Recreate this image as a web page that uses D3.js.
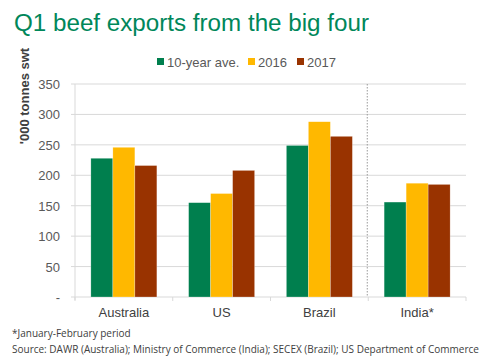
<!DOCTYPE html>
<html><head><meta charset="utf-8">
<script src="https://cdn.jsdelivr.net/npm/d3@7"></script>
<style>body{margin:0;background:#fff}svg{display:block}</style>
</head><body>
<script>
const categories = ["Australia", "US", "Brazil", "India*"];
const seriesNames = ["10-year ave.", "2016", "2017"];
const avg10 = [228, 155, 249, 156];
const y2016 = [246, 170, 288, 187];
const y2017 = [216, 208, 264, 185];
const yTicks = [0, 50, 100, 150, 200, 250, 300, 350];
const colors = ["#007F4E", "#FFB800", "#993300"];
const series = [avg10, y2016, y2017];

(function () {
const W = 500, H = 361;
const svg = d3.select("body").append("svg").attr("width", W).attr("height", H);
const font = "Liberation Sans, Arial, sans-serif";

svg.append("text").attr("x", 14).attr("y", 31).attr("fill", "#00875A")
  .attr("font-family", font).attr("font-size", 24.2).text("Q1 beef exports from the big four");

const pL = 75, pR = 466, pT = 84, pB = 297;
const x = d3.scaleBand().domain(categories).range([pL, pR]);
const y = d3.scaleLinear().domain([0, 350]).range([pB, pT]);
const xs = d3.scaleBand().domain(seriesNames).range([0, 66]);

svg.append("g").selectAll("line").data(yTicks).join("line")
  .attr("x1", pL - 4).attr("x2", pR).attr("y1", d => y(d)).attr("y2", d => y(d))
  .attr("stroke", "#d9d9d9").attr("stroke-width", 1);
svg.append("line").attr("x1", pL).attr("x2", pL).attr("y1", pT).attr("y2", pB + 3)
  .attr("stroke", "#d9d9d9");
svg.append("g").selectAll("text").data(yTicks).join("text")
  .attr("x", 60).attr("y", d => y(d) + 5).attr("text-anchor", "end")
  .attr("font-family", font).attr("font-size", 13).attr("fill", "#595959")
  .text(d => d === 0 ? "-" : d);
const bounds = categories.map(c => x(c)).concat([pR]);
svg.append("g").selectAll("line").data(bounds).join("line")
  .attr("x1", d => d).attr("x2", d => d).attr("y1", pB).attr("y2", pB + 4)
  .attr("stroke", "#d9d9d9");
svg.append("line").attr("x1", x("India*") - 1).attr("x2", x("India*") - 1).attr("y1", pT).attr("y2", pB)
  .attr("stroke", "#999").attr("stroke-dasharray", "1.5,1.5");

categories.forEach((c, i) => {
  const g = svg.append("g").attr("transform", `translate(${x(c) + (x.bandwidth() - 66) / 2},0)`);
  series.forEach((s, j) => {
    g.append("rect").attr("x", xs(seriesNames[j])).attr("width", xs.bandwidth())
      .attr("y", y(s[i])).attr("height", y(0) - y(s[i]))
      .attr("fill", colors[j]).attr("stroke", "rgba(255,255,255,0.5)").attr("stroke-width", 0.5);
  });
});
svg.append("g").selectAll("text").data(categories).join("text")
  .attr("x", d => x(d) + x.bandwidth() / 2).attr("y", 317).attr("text-anchor", "middle")
  .attr("font-family", font).attr("font-size", 13).attr("fill", "#404040").text(d => d);

const legX = [157, 248, 297];
const leg = svg.append("g");
seriesNames.forEach((n, j) => {
  leg.append("rect").attr("x", legX[j]).attr("y", 58).attr("width", 7).attr("height", 7).attr("fill", colors[j]);
  leg.append("text").attr("x", legX[j] + 10).attr("y", 66.5).attr("font-family", font)
    .attr("font-size", 13).attr("fill", "#595959").text(n);
});

svg.append("text").attr("transform", "translate(29,96) rotate(-90)").attr("text-anchor", "middle")
  .attr("font-family", font).attr("font-size", 13).attr("font-weight", "bold").attr("fill", "#404040")
  .text("'000 tonnes swt");

svg.append("text").attr("x", 12).attr("y", 337).attr("font-family", "Open Sans, sans-serif")
  .attr("font-size", 10).attr("fill", "#404040").text("*January-February period");
svg.append("text").attr("x", 12).attr("y", 353).attr("font-family", "Open Sans, sans-serif")
  .attr("font-size", 10).attr("fill", "#404040")
  .text("Source: DAWR (Australia); Ministry of Commerce (India); SECEX (Brazil); US Department of Commerce");
})();
</script>
</body></html>
